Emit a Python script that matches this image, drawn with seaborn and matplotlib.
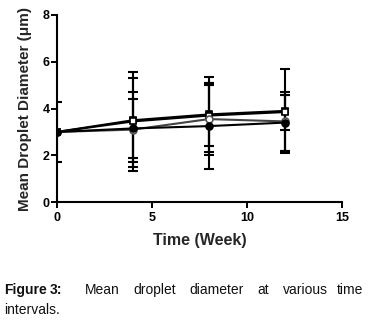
import matplotlib
matplotlib.use("Agg")
import matplotlib.pyplot as plt
import seaborn as sns
import pandas as pd
import numpy as np

sns.set_theme(style="ticks")
plt.rcParams['font.family'] = ['Liberation Sans', 'DejaVu Sans']

weeks = [0, 4, 8, 12]
series_names = ["F1", "F2", "F3", "F4"]
mean_f1 = [3.0, 3.5, 3.75, 3.9]
err_f1 = [1.3, 1.8, 1.6, 1.8]
mean_f2 = [3.0, 3.45, 3.7, 3.85]
err_f2 = [0.0, 2.1, 1.3, 0.75]
mean_f3 = [3.0, 3.1, 3.55, 3.45]
err_f3 = [0.0, 1.6, 1.55, 1.25]
mean_f4 = [3.0, 3.15, 3.25, 3.4]
err_f4 = [0.0, 1.25, 1.85, 1.2]

means = [mean_f1, mean_f2, mean_f3, mean_f4]
errs = [err_f1, err_f2, err_f3, err_f4]
markers = ["s", "s", "o", "o"]
faces = ["black", "white", "white", "black"]
edges = ["black", "black", "#555555", "black"]
lcols = ["black", "black", "#444444", "black"]

fig = plt.figure(figsize=(3.79, 3.25), dpi=100)
ax = fig.add_axes([0.150, 0.378, 0.752, 0.576])

for name, m, e, mk, fc, ec, lc in zip(series_names, means, errs, markers, faces, edges, lcols):
    df = pd.DataFrame({"Week": weeks, "Mean": m})
    ax.errorbar(weeks, m, yerr=e, fmt='none', ecolor='black', elinewidth=1.5,
                capsize=3.5, capthick=1.5, zorder=2)
    sns.lineplot(data=df, x="Week", y="Mean", ax=ax, color=lc, linewidth=1.5,
                 marker=mk, markersize=5, markerfacecolor=fc, markeredgecolor=ec,
                 markeredgewidth=1.2, zorder=3)

ax.set_xlim(0, 15)
ax.set_ylim(0, 8)
ax.set_xticks([0, 5, 10, 15])
ax.set_yticks([0, 2, 4, 6, 8])
sns.despine(ax=ax)
for s in ["left", "bottom"]:
    ax.spines[s].set_linewidth(1.5)
    ax.spines[s].set_color("black")
ax.tick_params(axis="both", direction="out", length=4, width=1.4, colors="black",
               labelsize=9)
ax.tick_params(axis="x", pad=3)
ax.tick_params(axis="y", pad=1)
for lab in ax.get_xticklabels() + ax.get_yticklabels():
    lab.set_fontweight("bold")
ax.set_xlabel("Time (Week)", fontsize=11.5, fontweight="bold")
ax.set_ylabel("Mean Droplet Diameter (\u03bcm)", fontsize=11, fontweight="bold")
ax.xaxis.set_label_coords(0.5, -0.165)
ax.yaxis.set_label_coords(-0.088, 0.5)

W, H = 379, 325
def fx(px): return px / W
def fy(py): return 1 - py / H

words = [("Figure", 4, "bold"), ("3:", 50, "bold"), ("Mean", 85, "normal"),
         ("droplet", 133, "normal"), ("diameter", 189, "normal"), ("at", 257, "normal"),
         ("various", 283, "normal"), ("time", 337, "normal")]
for w, x, fw in words:
    fig.text(fx(x), fy(290), w, fontsize=10, fontweight=fw, va="center", ha="left", color="#111111")
fig.text(fx(4), fy(310), "intervals.", fontsize=10, va="center", ha="left", color="#111111")

fig.savefig("out.png", dpi=100)
